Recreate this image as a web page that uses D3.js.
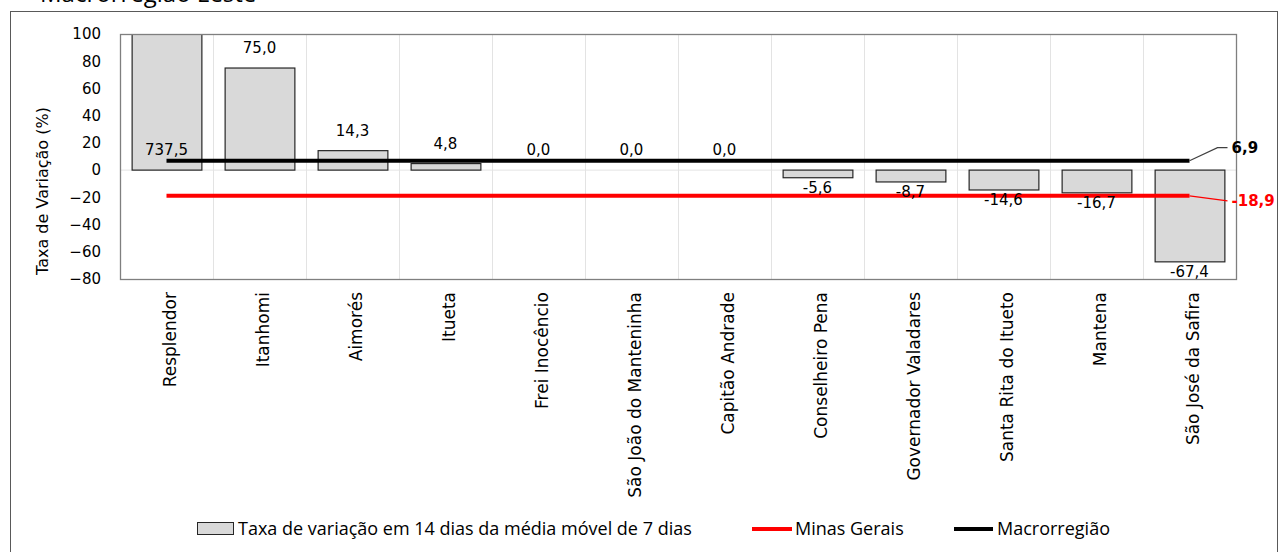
<!DOCTYPE html>
<html>
<head>
<meta charset="utf-8">
<script src="https://cdn.jsdelivr.net/npm/d3@7"></script>
<style>
  body { margin: 0; background: #fff; }
  svg text { font-family: "DejaVu Sans", Verdana, sans-serif; fill: #000; }
  .legend text { font-family: "Open Sans", "Roboto", sans-serif; }
</style>
</head>
<body>
<svg id="chart" width="1280" height="552"></svg>
<script>
// municipalities (categories)
var cities = ["Resplendor", "Itanhomi", "Aimorés", "Itueta", "Frei Inocêncio",
    "São João do Manteninha", "Capitão Andrade", "Conselheiro Pena",
    "Governador Valadares", "Santa Rita do Itueto", "Mantena", "São José da Safira"];
// taxa de variação em 14 dias (%)
var rates = [737.5, 75.0, 14.3, 4.8, 0.0, 0.0, 0.0, -5.6, -8.7, -14.6, -16.7, -67.4];
// reference lines
var minasGerais = -18.9;
var macrorregiao = 6.9;
var yTicks = [100, 80, 60, 40, 20, 0, -20, -40, -60, -80];

var svg = d3.select("#chart");
var margin = { left: 120, right: 44, top: 34, bottom: 273 };
var width = 1280 - margin.left - margin.right;
var height = 552 - margin.top - margin.bottom;

var fmt = function(v) { return v.toFixed(1).replace(".", ","); };

// outer frame
svg.append("rect")
    .attr("x", 10.5).attr("y", 11.5)
    .attr("width", 1267).attr("height", 545)
    .attr("fill", "none").attr("stroke", "#595959");

// title, mostly above the visible area
svg.append("text")
    .attr("x", 40).attr("y", 1.5)
    .style("font-family", "'Open Sans', sans-serif")
    .style("font-size", "24px")
    .text("Macrorregião Leste");

var g = svg.append("g")
    .attr("transform", "translate(" + margin.left + "," + margin.top + ")");

var x = d3.scaleBand()
    .domain(cities)
    .range([0, width])
    .paddingInner(0.25)
    .paddingOuter(0.125);

var y = d3.scaleLinear()
    .domain([-80, 100])
    .range([height, 0]);

// vertical gridlines at category boundaries
var step = x.step();
g.selectAll(".vgrid")
    .data(d3.range(1, cities.length))
    .enter().append("line")
    .attr("x1", function(d) { return d * step + 0.5; })
    .attr("x2", function(d) { return d * step + 0.5; })
    .attr("y1", 0).attr("y2", height)
    .attr("stroke", "#e3e3e3");

g.append("line")
    .attr("x1", 0).attr("x2", width)
    .attr("y1", y(0)).attr("y2", y(0))
    .attr("stroke", "#e3e3e3");

g.append("clipPath").attr("id", "plotClip")
    .append("rect").attr("width", width).attr("height", height);

// bars
g.append("g").attr("clip-path", "url(#plotClip)")
    .selectAll("rect")
    .data(rates)
    .enter().append("rect")
    .attr("x", function(d, i) { return x(cities[i]) + 0.5; })
    .attr("y", function(d) { return y(Math.max(d, 0)); })
    .attr("width", x.bandwidth())
    .attr("height", function(d) { return Math.abs(y(d) - y(0)); })
    .attr("fill", "#d9d9d9")
    .attr("stroke", "#262626")
    .attr("stroke-width", 1.2);

// plot border
g.append("rect")
    .attr("x", 0.5).attr("y", 0.5)
    .attr("width", width).attr("height", height)
    .attr("fill", "none").attr("stroke", "#7f7f7f").attr("stroke-width", 1.3);

// series lines
var lineX1 = x(cities[0]) + x.bandwidth() / 2;
var lineX2 = x(cities[cities.length - 1]) + x.bandwidth() / 2;

g.append("line")
    .attr("x1", lineX1).attr("x2", lineX2)
    .attr("y1", y(minasGerais)).attr("y2", y(minasGerais))
    .attr("stroke", "#ff0000").attr("stroke-width", 4);

g.append("line")
    .attr("x1", lineX1).attr("x2", lineX2)
    .attr("y1", y(macrorregiao)).attr("y2", y(macrorregiao))
    .attr("stroke", "#000").attr("stroke-width", 4);

// leader lines + end labels
g.append("polyline")
    .attr("points", [[lineX2, y(macrorregiao)], [lineX2 + 28, y(macrorregiao) - 13], [lineX2 + 38, y(macrorregiao) - 13]].join(" "))
    .attr("fill", "none").attr("stroke", "#404040").attr("stroke-width", 1.2);
g.append("text")
    .attr("x", lineX2 + 42).attr("y", y(macrorregiao) - 13)
    .attr("dy", "0.35em")
    .style("font-size", "15px").style("font-weight", "bold")
    .text(fmt(macrorregiao));

g.append("polyline")
    .attr("points", [[lineX2, y(minasGerais)], [lineX2 + 38, y(minasGerais) + 5]].join(" "))
    .attr("fill", "none").attr("stroke", "#ff0000").attr("stroke-width", 1.2);
g.append("text")
    .attr("x", lineX2 + 42).attr("y", y(minasGerais) + 5)
    .attr("dy", "0.35em")
    .style("fill", "#ff0000")
    .style("font-size", "15px").style("font-weight", "bold")
    .text(fmt(minasGerais));

// data labels
g.selectAll(".dlabel")
    .data(rates)
    .enter().append("text")
    .attr("class", "dlabel")
    .attr("text-anchor", "middle")
    .attr("x", function(d, i) { return x(cities[i]) + x.bandwidth() / 2; })
    .attr("y", function(d) {
        if (d > y.domain()[1]) return y(0) - 20;
        return d >= 0 ? y(d) - 20 : y(d) + 10;
    })
    .attr("dy", "0.35em")
    .style("font-size", "15px")
    .text(fmt);

// y axis
var yAxis = d3.axisLeft(y).tickValues(yTicks).tickSize(0).tickPadding(19);
g.append("g").call(yAxis)
    .call(function(s) { s.select(".domain").remove(); })
    .selectAll("text")
    .style("font-family", "'DejaVu Sans', Verdana, sans-serif")
    .style("font-size", "15px").attr("fill", "#000");

// x axis (rotated labels)
var xAxis = d3.axisBottom(x).tickSize(0).tickPadding(0);
g.append("g").attr("transform", "translate(0," + height + ")")
    .call(xAxis)
    .call(function(s) { s.select(".domain").remove(); })
    .selectAll("text")
    .style("font-family", "'DejaVu Sans', Verdana, sans-serif")
    .style("font-size", "17px").attr("fill", "#000")
    .attr("text-anchor", "end")
    .attr("transform", "translate(4,13) rotate(-90)")
    .attr("x", 0).attr("y", 0).attr("dy", "0.35em");

// y axis title
svg.append("text")
    .attr("transform", "translate(42,191) rotate(-90)")
    .attr("text-anchor", "middle")
    .attr("dy", "0.35em")
    .style("font-size", "16px")
    .text("Taxa de Variação (%)");

// legend
var legend = svg.append("g").attr("class", "legend");
legend.append("rect")
    .attr("x", 197.5).attr("y", 522.5).attr("width", 36).attr("height", 12)
    .attr("fill", "#d9d9d9").attr("stroke", "#262626");
legend.append("text")
    .attr("x", 238).attr("y", 529).attr("dy", "0.35em")
    .style("font-size", "18px")
    .text("Taxa de variação em 14 dias da média móvel de 7 dias");
legend.append("line")
    .attr("x1", 752).attr("x2", 792).attr("y1", 529).attr("y2", 529)
    .attr("stroke", "#ff0000").attr("stroke-width", 4);
legend.append("text")
    .attr("x", 795).attr("y", 529).attr("dy", "0.35em")
    .style("font-size", "18px")
    .text("Minas Gerais");
legend.append("line")
    .attr("x1", 954).attr("x2", 993).attr("y1", 529).attr("y2", 529)
    .attr("stroke", "#000").attr("stroke-width", 4);
legend.append("text")
    .attr("x", 997).attr("y", 529).attr("dy", "0.35em")
    .style("font-size", "18px")
    .text("Macrorregião");
</script>
</body>
</html>
